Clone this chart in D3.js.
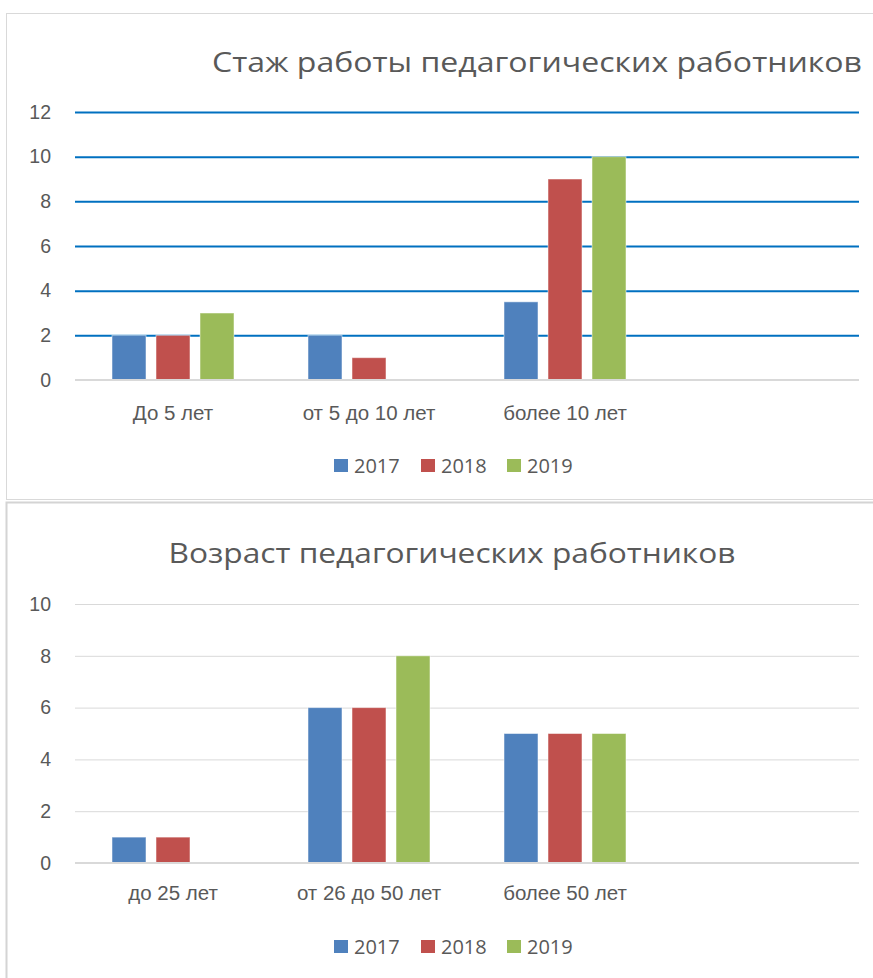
<!DOCTYPE html>
<html><head><meta charset="utf-8">
<script src="https://cdn.jsdelivr.net/npm/d3@7"></script>
<style>
html,body{margin:0;padding:0;background:#fff;}
svg{display:block;font-family:"Open Sans","Noto Sans",sans-serif;}
</style></head>
<body>
<svg id="c" width="873" height="978"></svg>
<script>
const series = ["2017", "2018", "2019"];
const colors = ["#4F81BD", "#C0504D", "#9BBB59"];

const title1 = "Стаж работы педагогических работников";
const cats1 = ["До 5 лет", "от 5 до 10 лет", "более 10 лет", ""];
const vals1_2017 = [2, 2, 3.5, null];
const vals1_2018 = [2, 1, 9, null];
const vals1_2019 = [3, 0, 10, null];
const ticks1 = [0, 2, 4, 6, 8, 10, 12];

const title2 = "Возраст педагогических работников";
const cats2 = ["до 25 лет", "от 26 до 50 лет", "более 50 лет", ""];
const vals2_2017 = [1, 6, 5, null];
const vals2_2018 = [1, 6, 5, null];
const vals2_2019 = [0, 8, 5, null];
const ticks2 = [0, 2, 4, 6, 8, 10];

const svg = d3.select("#c");

// chart frames
svg.append("rect").attr("x", 6.5).attr("y", 13.5).attr("width", 900).attr("height", 486)
  .attr("fill", "#fff").attr("stroke", "#d9d9d9").attr("stroke-width", 1);
svg.append("rect").attr("x", 6.5).attr("y", 502.5).attr("width", 900).attr("height", 500)
  .attr("fill", "#fff").attr("stroke", "#d4d4d4").attr("stroke-width", 2);

function drawChart(cfg) {
  const g = svg.append("g");
  const x = d3.scaleBand().domain(cfg.cats.map((c, i) => i)).range([75, 859]);
  const y = d3.scaleLinear().domain([0, cfg.ticks[cfg.ticks.length - 1]]).range([cfg.y0, cfg.yTop]);
  const inner = d3.scaleBand().domain(series).range([37, x.bandwidth() - 37]).paddingInner(0.2273);

  // title
  g.append("text").attr("x", cfg.titleX).attr("y", cfg.titleY)
    .attr("font-size", 28).attr("fill", "#595959").attr("text-anchor", "middle")
    .attr("textLength", cfg.titleLen).attr("lengthAdjust", "spacingAndGlyphs")
    .text(cfg.title);

  // y axis
  const yAxis = d3.axisLeft(y).tickValues(cfg.ticks).tickSize(0).tickPadding(0).tickFormat(d3.format("d"));
  const ya = g.append("g").attr("transform", "translate(51,0)").call(yAxis);
  ya.select(".domain").remove();
  ya.selectAll("text").attr("font-size", 19.5).attr("fill", "#595959").attr("font-family", "inherit");

  // gridlines
  const grid = d3.axisLeft(y).tickValues(cfg.ticks.filter(t => t > 0)).tickSize(-(859 - 75)).tickFormat("");
  const gg = g.append("g").attr("transform", "translate(75,0)").call(grid);
  gg.select(".domain").remove();
  gg.selectAll("line").attr("stroke", cfg.gridColor).attr("stroke-width", cfg.gridWidth);

  // bars
  const data = cfg.vals;
  series.forEach((s, si) => {
    g.append("g").selectAll("rect").data(data[si].map((v, i) => ({v, i})).filter(d => d.v))
      .join("rect")
      .attr("x", d => x(d.i) + inner(s))
      .attr("width", inner.bandwidth())
      .attr("y", d => y(d.v))
      .attr("height", d => y(0) - y(d.v))
      .attr("fill", colors[si])
      .attr("stroke", "#fff").attr("stroke-opacity", 0.5).attr("stroke-width", 1);
  });

  // baseline
  const xAxis = d3.axisBottom(x).tickSize(0).tickPadding(0).tickFormat(i => cfg.cats[i]);
  const xa = g.append("g").attr("transform", `translate(0,${cfg.y0})`).call(xAxis);
  xa.select(".domain").attr("stroke", "#d9d9d9").attr("stroke-width", 2).attr("d", `M75,0H859`);
  xa.selectAll("text").attr("font-size", 20.5).attr("fill", "#595959").attr("font-family", "inherit")
    .attr("dy", 0).attr("y", cfg.catY - cfg.y0);

  // legend
  const lg = g.append("g");
  series.forEach((s, si) => {
    const lx = cfg.legendX[si];
    lg.append("rect").attr("x", lx).attr("y", cfg.legendY - 14).attr("width", 14).attr("height", 13).attr("fill", colors[si]);
    lg.append("text").attr("x", lx + 20).attr("y", cfg.legendY).attr("font-size", 20).attr("fill", "#595959").text(s);
  });
}

drawChart({
  title: title1, titleX: 537, titleY: 72, titleLen: 650,
  cats: cats1, vals: [vals1_2017, vals1_2018, vals1_2019], ticks: ticks1,
  y0: 380, yTop: 112, gridColor: "#0070C0", gridWidth: 2,
  catY: 420, legendX: [334, 421, 507], legendY: 473
});
drawChart({
  title: title2, titleX: 452, titleY: 563, titleLen: 567,
  cats: cats2, vals: [vals2_2017, vals2_2018, vals2_2019], ticks: ticks2,
  y0: 863, yTop: 604, gridColor: "#d9d9d9", gridWidth: 1,
  catY: 900, legendX: [334, 421, 507], legendY: 954
});
</script>
</body></html>
